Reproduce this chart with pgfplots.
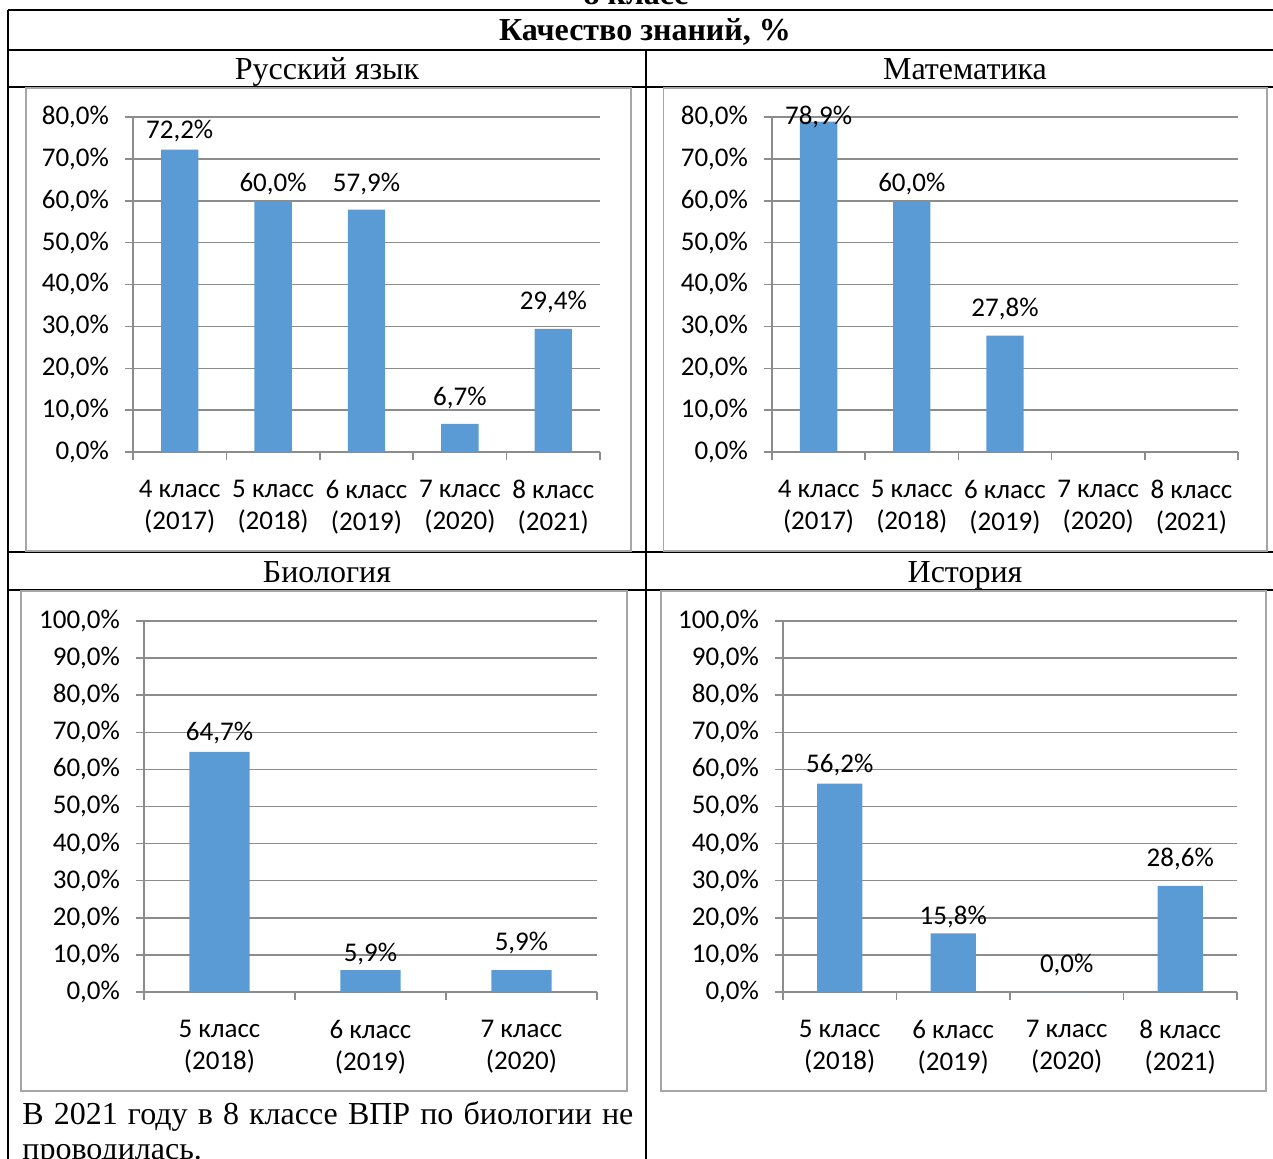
\documentclass[border=0pt]{standalone}
\usepackage{pgfplots}
\pgfplotsset{compat=1.18}
\usepackage{pgfplotstable}
\usepackage{fontspec}
\setmainfont{Liberation Serif}
\newfontfamily\chartfont{Carlito}
\definecolor{barc}{HTML}{5B9BD5}
\definecolor{gridc}{HTML}{8C8C8C}
\definecolor{framec}{HTML}{A6A6A6}
\newcommand{\cf}{\chartfont\fontsize{13.5}{16}\selectfont}
\newcommand{\tf}{\fontsize{16}{17.5}\selectfont}

\pgfplotstableread{
x y off
0 72.2 9.35
1 60.0 8.4
2 57.9 12.75
3 6.7 13
4 29.4 13.5
}\rus
\pgfplotstableread{
x y off
0 78.9 2.3
1 60.0 8.5
2 27.8 13.3
}\mat
\pgfplotstableread{
x y off
0 64.7 9.5
1 5.9 8
2 5.9 13.5
}\bio
\pgfplotstableread{
x y off
0 56.2 9.25
1 15.8 8.2
2 0.0 13.5
3 28.6 13.5
}\his

\pgfplotsset{
 vpr/.style={
  scale only axis,
  anchor=south west,
  ymin=0,
  xmin=-0.5,
  axis x line*=bottom, axis y line*=left,
  axis line style={draw=gridc, line width=0.75pt},
  ymajorgrids, grid style={draw=gridc, line width=0.75pt},
  tick align=outside, major tick length=4pt,
  tick style={draw=gridc, line width=0.75pt},
  major x tick style={draw=none},
  minor tick length=4pt,
  minor x tick style={draw=gridc, line width=0.75pt},
  tick label style={font=\cf},
  xticklabel style={align=center, yshift=-6.5pt},
  yticklabel style={xshift=-4.5pt},
  yticklabel={\pgfmathprintnumber[fixed,fixed zerofill,precision=1,use comma,assume math mode=true]{\tick}\%},
  clip=false,
 },
 vprbar/.style={
  ybar, bar width=0.4, fill=barc, draw=none,
  visualization depends on={\thisrow{off} \as \off},
  nodes near coords={\pgfmathprintnumber[fixed,fixed zerofill,precision=1,use comma,assume math mode=true]{\pgfplotspointmeta}\%},
  nodes near coords style={font=\cf, anchor=center, yshift=\off pt, text=black},
 },
}

\begin{document}
\begin{tikzpicture}
\useasboundingbox (0,0) rectangle (636.5pt,579pt);

% table lines
\begin{scope}[line width=1.1pt]
\draw (4pt,574pt) -- (650pt,574pt);
\draw (4pt,554pt) -- (650pt,554pt);
\draw (4pt,535.5pt) -- (650pt,535.5pt);
\draw (4pt,303pt) -- (650pt,303pt);
\draw (4pt,284pt) -- (650pt,284pt);
\draw (4pt,574pt) -- (4pt,-5pt);
\draw (323pt,554pt) -- (323pt,-5pt);
\end{scope}

% texts
\node[anchor=base, inner sep=0pt, font=\tf\bfseries] at (318pt,576.5pt) {8 класс};
\node[anchor=base, inner sep=0pt, font=\tf\bfseries] at (322.5pt,558.5pt) {Качество знаний, \%};
\node[anchor=base, inner sep=0pt, font=\tf] at (163.5pt,539pt) {Русский язык};
\node[anchor=base, inner sep=0pt, font=\tf] at (482.5pt,539pt) {Математика};
\node[anchor=base, inner sep=0pt, font=\tf] at (163.5pt,287.5pt) {Биология};
\node[anchor=base, inner sep=0pt, font=\tf] at (482.5pt,287.5pt) {История};
\node[anchor=base west, inner sep=0pt, font=\tf] at (11pt,17pt) {\hbox to 305.5pt{В 2021 году в 8 классе ВПР по биологии не}};
\node[anchor=base west, inner sep=0pt, font=\tf] at (11pt,-0.5pt) {проводилась.};

% chart frames
\begin{scope}[draw=framec, line width=0.8pt]
\draw (13pt,303.5pt) rectangle (315.5pt,535pt);
\draw (331.75pt,303.5pt) rectangle (633.5pt,535pt);
\draw (10.5pt,33.5pt) rectangle (313.5pt,283.5pt);
\draw (330.5pt,33.5pt) rectangle (633pt,283.5pt);
\end{scope}

% Russian
\begin{axis}[vpr, at={(66.5pt,353pt)}, width=233.5pt, height=167.5pt,
  xmax=4.5, ymax=80, ytick={0,10,...,80},
  xtick={0,1,2,3,4}, minor xtick={-0.5,0.5,...,4.5},
  xticklabels={{4 класс\\(2017)},{5 класс\\(2018)},{6 класс\\(2019)},{7 класс\\(2020)},{8 класс\\(2021)}}]
\addplot[vprbar] table[x=x,y=y] {\rus};
\end{axis}

% Math
\begin{axis}[vpr, at={(386pt,353pt)}, width=233pt, height=167.5pt,
  xmax=4.5, ymax=80, ytick={0,10,...,80},
  xtick={0,1,2,3,4}, minor xtick={-0.5,0.5,...,4.5},
  xticklabels={{4 класс\\(2017)},{5 класс\\(2018)},{6 класс\\(2019)},{7 класс\\(2020)},{8 класс\\(2021)}}]
\addplot[vprbar] table[x=x,y=y] {\mat};
\end{axis}

% Biology
\begin{axis}[vpr, at={(72pt,83pt)}, width=226.5pt, height=185.5pt,
  xmax=2.5, ymax=100, ytick={0,10,...,100},
  xtick={0,1,2}, minor xtick={-0.5,0.5,...,2.5},
  xticklabels={{5 класс\\(2018)},{6 класс\\(2019)},{7 класс\\(2020)}}]
\addplot[vprbar] table[x=x,y=y] {\bio};
\end{axis}

% History
\begin{axis}[vpr, at={(391.5pt,83pt)}, width=227pt, height=185.5pt,
  xmax=3.5, ymax=100, ytick={0,10,...,100},
  xtick={0,1,2,3}, minor xtick={-0.5,0.5,...,3.5},
  xticklabels={{5 класс\\(2018)},{6 класс\\(2019)},{7 класс\\(2020)},{8 класс\\(2021)}}]
\addplot[vprbar] table[x=x,y=y] {\his};
\end{axis}
\end{tikzpicture}
\end{document}
